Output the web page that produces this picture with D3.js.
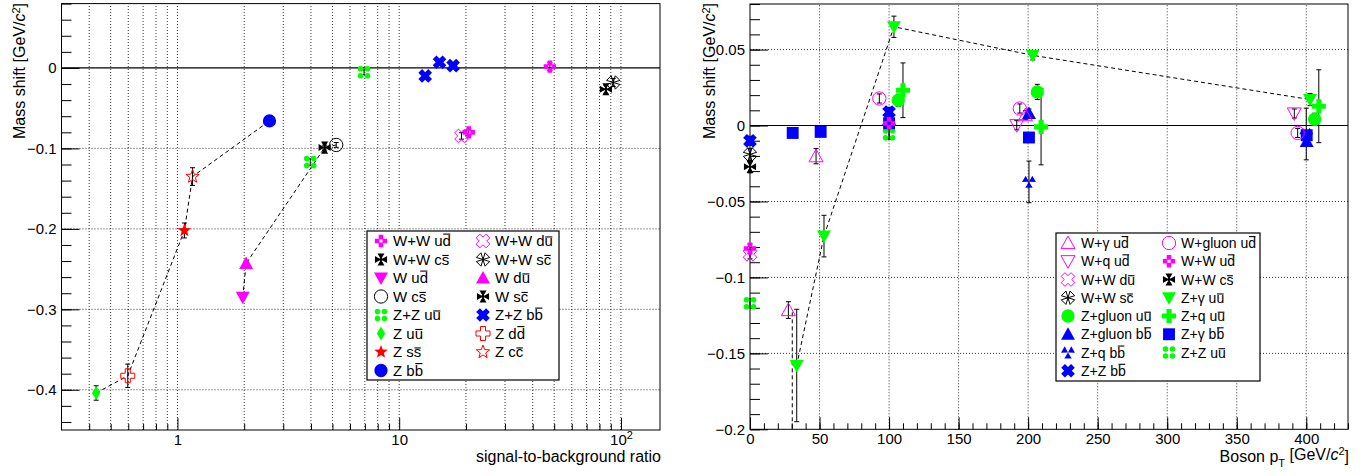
<!DOCTYPE html>
<html>
<head>
<meta charset="utf-8">
<script src="https://cdn.jsdelivr.net/npm/d3@7"></script>
<style>
  body { margin: 0; background: #fff; }
  svg { display: block; }
</style>
</head>
<body>
<svg id="chart" width="1372" height="476"></svg>
<script>
// ---------- data: left panel [signal-to-background, mass shift, error] ----------
const sbWWud = [[47.8, 0.0016, 0.005], [20.6, -0.080, 0.004]];
const sbWWdu = [[19.1, -0.0845, 0.004]];
const sbWWcs = [[85.5, -0.0265, 0.005]];
const sbWWsc = [[92.3, -0.018, 0.005]];
const sbWud = [[1.97, -0.285, 0.003]];
const sbWdu = [[2.04, -0.243, 0.003]];
const sbWcs = [[5.2, -0.0957, 0.003]];
const sbWsc = [[4.61, -0.099, 0.003]];
const sbZZuu = [[3.97, -0.117, 0.004], [6.94, -0.0054, 0.003]];
const sbZZbb = [[13.1, -0.0099, 0.003], [15.2, 0.0071, 0.003], [17.5, 0.0029, 0.003]];
const sbZuu = [[0.43, -0.404, 0.009]];
const sbZdd = [[0.597, -0.3826, 0.0145]];
const sbZss = [[1.075, -0.202, 0.0093]];
const sbZcc = [[1.17, -0.135, 0.011]];
const sbZbb = [[2.6, -0.0658, 0.002]];
// dashed guide lines (left)
const sbLineZ = [sbZuu[0], sbZdd[0], sbZss[0], sbZcc[0], sbZbb[0]];
const sbLineW = [sbWud[0], sbWdu[0], sbWsc[0], sbWcs[0]];

// ---------- data: right panel [boson pT, mass shift, error] ----------
const ptWgUd = [[27.6, -0.1215, 0.0055], [47.5, -0.0202, 0.005], [198, 0.0068, 0.003]];
const ptWgluUd = [[93, 0.0178, 0.003], [194, 0.0112, 0.003], [393.8, -0.0049, 0.003]];
const ptWqUd = [[191.8, 0.0002, 0.003], [391.4, 0.0079, 0.003]];
const ptWWud = [[0, -0.081, 0.003], [100, 0.0015, 0.003]];
const ptWWdu = [[0, -0.0847, 0.003]];
const ptWWcs = [[0, -0.0272, 0.004]];
const ptWWsc = [[0, -0.019, 0.004]];
const ptZgUu = [[33.6, -0.158, 0.037], [53.2, -0.0728, 0.0137], [103.5, 0.065, 0.007], [203.3, 0.0462, 0.003], [402.7, 0.0171, 0.004]];
const ptZgluUu = [[106.6, 0.0166, 0.004], [206.6, 0.0221, 0.005], [406, 0.0041, 0.004]];
const ptZqUu = [[110, 0.0232, 0.018], [209.3, -0.0009, 0.025], [409, 0.0127, 0.024]];
const ptZgluBb = [[100, 0.004, 0.003], [200.6, 0.0079, 0.003], [400.3, -0.0105, 0.003]];
const ptZgBb = [[30.7, -0.0049, 0.003], [50.8, -0.0042, 0.003], [100, 0.0015, 0.0105], [200.6, -0.0079, 0.003], [400.3, -0.0064, 0.003]];
const ptZqBb = [[200.6, -0.0371, 0.0137], [400, -0.0056, 0.017]];
const ptZZuu = [[0, -0.117, 0.003], [100, -0.0058, 0.003]];
const ptZZbb = [[0, -0.0101, 0.003], [100, 0.0089, 0.003]];
// dashed guide lines (right)
const ptLineZg = ptZgUu;
const ptLineExtra = [[30.4, -0.123], [30.4, -0.2]];

// ---------- ticks ----------
const sbTicks = [1, 10, 100];
const sbMinor = [0.4, 0.5, 0.6, 0.7, 0.8, 0.9, 2, 3, 4, 5, 6, 7, 8, 9, 20, 30, 40, 50, 60, 70, 80, 90];
const shiftTicksL = [-0.4, -0.3, -0.2, -0.1, 0];
const ptTicks = [0, 50, 100, 150, 200, 250, 300, 350, 400];
const shiftTicksR = [-0.2, -0.15, -0.1, -0.05, 0, 0.05];

const FONT = "'Liberation Sans', Arial, Helvetica, sans-serif";
const MAG = "#ff00ff", GRN = "#00ff00", BLU = "#0000ff", RED = "#ff0000", BLK = "#000000";

const leftSeries = [
  { label: "W+W u#bar{d}", data: sbWWud, m: "fourSqPlus", c: MAG },
  { label: "W+W d#bar{u}", data: sbWWdu, m: "crossX", c: MAG, open: true },
  { label: "W+W c#bar{s}", data: sbWWcs, m: "fourTriPlus", c: BLK },
  { label: "W+W s#bar{c}", data: sbWWsc, m: "fourTriX", c: BLK, open: true },
  { label: "W u#bar{d}", data: sbWud, m: "triDown", c: MAG },
  { label: "W d#bar{u}", data: sbWdu, m: "triUp", c: MAG },
  { label: "W c#bar{s}", data: sbWcs, m: "circle", c: BLK, open: true },
  { label: "W s#bar{c}", data: sbWsc, m: "fourTriPlus", c: BLK },
  { label: "Z+Z u#bar{u}", data: sbZZuu, m: "fourSqX", c: GRN },
  { label: "Z+Z b#bar{b}", data: sbZZbb, m: "crossX", c: BLU },
  { label: "Z u#bar{u}", data: sbZuu, m: "diamond", c: GRN },
  { label: "Z d#bar{d}", data: sbZdd, m: "cross", c: RED, open: true },
  { label: "Z s#bar{s}", data: sbZss, m: "star", c: RED },
  { label: "Z c#bar{c}", data: sbZcc, m: "star", c: RED, open: true },
  { label: "Z b#bar{b}", data: sbZbb, m: "circle", c: BLU }
];

const rightSeries = [
  { label: "W+\u03b3 u#bar{d}", data: ptWgUd, m: "triUp", c: MAG, open: true },
  { label: "W+gluon u#bar{d}", data: ptWgluUd, m: "circle", c: MAG, open: true },
  { label: "W+q u#bar{d}", data: ptWqUd, m: "triDown", c: MAG, open: true },
  { label: "W+W u#bar{d}", data: ptWWud, m: "fourSqPlus", c: MAG },
  { label: "W+W d#bar{u}", data: ptWWdu, m: "crossX", c: MAG, open: true },
  { label: "W+W c#bar{s}", data: ptWWcs, m: "fourTriPlus", c: BLK },
  { label: "W+W s#bar{c}", data: ptWWsc, m: "fourTriX", c: BLK, open: true },
  { label: "Z+\u03b3 u#bar{u}", data: ptZgUu, m: "triDown", c: GRN },
  { label: "Z+gluon u#bar{u}", data: ptZgluUu, m: "circle", c: GRN },
  { label: "Z+q u#bar{u}", data: ptZqUu, m: "cross", c: GRN },
  { label: "Z+gluon b#bar{b}", data: ptZgluBb, m: "triUp", c: BLU },
  { label: "Z+\u03b3 b#bar{b}", data: ptZgBb, m: "square", c: BLU },
  { label: "Z+q b#bar{b}", data: ptZqBb, m: "threeTri", c: BLU },
  { label: "Z+Z u#bar{u}", data: ptZZuu, m: "fourSqX", c: GRN },
  { label: "Z+Z b#bar{b}", data: ptZZbb, m: "crossX", c: BLU }
];

// ---------- marker shapes (ROOT style) ----------
function markerPath(kind, r) {
  const p = d3.path();
  const D = Math.PI / 180;
  const poly = pts => { pts.forEach(([x, y], i) => i ? p.lineTo(x, y) : p.moveTo(x, y)); p.closePath(); };
  const rot = (pts, a) => pts.map(([x, y]) => [x * Math.cos(a) - y * Math.sin(a), x * Math.sin(a) + y * Math.cos(a)]);
  const plus = a => [[-a, -r], [a, -r], [a, -a], [r, -a], [r, a], [a, a], [a, r], [-a, r], [-a, a], [-r, a], [-r, -a], [-a, -a]];
  const wedge = (ang, half) => [[0, 0], [r * Math.cos(ang - half), r * Math.sin(ang - half)], [r * Math.cos(ang + half), r * Math.sin(ang + half)]];
  const sq = (cx, cy, s) => [[cx - s, cy - s], [cx + s, cy - s], [cx + s, cy + s], [cx - s, cy + s]];
  const dot = (cx, cy, rr) => { p.moveTo(cx + rr, cy); p.arc(cx, cy, rr, 0, 2 * Math.PI); p.closePath(); };
  switch (kind) {
    case "circle": p.arc(0, 0, r * 0.95, 0, 2 * Math.PI); p.closePath(); break;
    case "square": poly(sq(0, 0, r * 0.85)); break;
    case "triUp": poly([[0, -r], [r, r * 0.8], [-r, r * 0.8]]); break;
    case "triDown": poly([[0, r], [r, -r * 0.8], [-r, -r * 0.8]]); break;
    case "diamond": poly([[0, -r], [r * 0.6, 0], [0, r], [-r * 0.6, 0]]); break;
    case "cross": poly(plus(r * 0.36)); break;
    case "crossX": poly(rot(plus(r * 0.38), 45 * D)); break;
    case "star": {
      const pts = [];
      for (let i = 0; i < 10; i++) {
        const a = -90 * D + i * 36 * D, rr = i % 2 ? r * 0.42 : r;
        pts.push([rr * Math.cos(a), rr * Math.sin(a)]);
      }
      poly(pts); break;
    }
    case "fourTriPlus": [0, 90, 180, 270].forEach(a => poly(wedge(a * D, 30 * D))); poly(sq(0, 0, r * 0.18)); break;
    case "fourTriX": [45, 135, 225, 315].forEach(a => poly(wedge(a * D, 28 * D))); break;
    case "threeTri": [-150, -30, 90].forEach(a => poly(wedge(a * D, 32 * D))); break;
    case "fourSqX": [[1, 1], [1, -1], [-1, 1], [-1, -1]].forEach(([sx, sy]) => dot(sx * r * 0.5, sy * r * 0.5, r * 0.4)); break;
    case "fourSqPlus": [[0, 1], [0, -1], [1, 0], [-1, 0]].forEach(([sx, sy]) => poly(sq(sx * r * 0.55, sy * r * 0.55, r * 0.33))); break;
  }
  return p.toString();
}

function drawMarker(g, s, x, y, r = 7) {
  g.append("path")
    .attr("d", markerPath(s.m, r))
    .attr("transform", `translate(${x},${y})`)
    .attr("fill", s.open ? "none" : s.c)
    .attr("stroke", s.open ? s.c : "none")
    .attr("stroke-width", 1);
}

// text with ROOT-like #bar{} overlines
function richText(g, str, x, y, fs) {
  const t = g.append("text").attr("x", x).attr("y", y)
    .attr("font-size", fs).attr("font-family", FONT).attr("fill", "#000");
  const parts = str.split(/#bar\{(.)\}/);
  const bars = [];
  let idx = 0;
  parts.forEach((s, i) => {
    if (!s) return;
    t.append("tspan").text(s);
    if (i % 2) bars.push({ i: idx, ch: s });
    idx += s.length;
  });
  const node = t.node();
  bars.forEach(b => {
    const e = node.getExtentOfChar(b.i);
    const hy = y - fs * (/[bdhklf]/.test(b.ch) ? 0.82 : 0.63);
    g.append("line").attr("x1", e.x + 0.6).attr("x2", e.x + e.width - 0.6)
      .attr("y1", hy).attr("y2", hy).attr("stroke", "#000").attr("stroke-width", 1.1);
  });
  return t;
}

const svg = d3.select("#chart");

function panel(o) {
  const g = svg.append("g");
  const [x0, x1] = o.x.range(), [y0, y1] = o.y.range(); // y0 bottom, y1 top
  const dot = sel => sel.attr("stroke", "#000").attr("stroke-width", 0.8).attr("stroke-dasharray", "1,2");

  g.append("g").selectAll("line").data(o.xGrid).join("line")
    .attr("x1", d => o.x(d)).attr("x2", d => o.x(d)).attr("y1", y0).attr("y2", y1).call(dot);
  g.append("g").selectAll("line").data(o.yGrid).join("line")
    .attr("y1", d => o.y(d)).attr("y2", d => o.y(d)).attr("x1", x0).attr("x2", x1).call(dot);

  g.append("line").attr("x1", x0).attr("x2", x1).attr("y1", o.y(0)).attr("y2", o.y(0))
    .attr("stroke", "#000").attr("stroke-width", 1.2);

  // axes
  const styleAxis = a => {
    a.select(".domain").remove();
    a.attr("font-family", FONT).attr("font-size", 15);
    a.selectAll("line").attr("stroke", "#000");
  };
  const xa = g.append("g").attr("transform", `translate(0,${y0})`);
  xa.call(d3.axisBottom(o.x).tickValues(o.xMinor).tickSize(-6).tickFormat("")).call(styleAxis);
  const xb = g.append("g").attr("transform", `translate(0,${y0})`);
  xb.call(d3.axisBottom(o.x).tickValues(o.xMajor).tickSize(-12).tickPadding(4).tickFormat(o.xFmt)).call(styleAxis);
  if (o.xPost) o.xPost(xb);

  const ya = g.append("g").attr("transform", `translate(${x0},0)`);
  ya.call(d3.axisLeft(o.y).tickValues(o.yMinor).tickSize(-10).tickFormat("")).call(styleAxis);
  const yb = g.append("g").attr("transform", `translate(${x0},0)`);
  yb.call(d3.axisLeft(o.y).tickValues(o.yMajor).tickSize(-18).tickPadding(5).tickFormat(d => d === 0 ? "0" : d3.format("~g")(d))).call(styleAxis);

  // frame
  g.append("rect").attr("x", x0).attr("y", y1).attr("width", x1 - x0).attr("height", y0 - y1)
    .attr("fill", "none").attr("stroke", "#000").attr("stroke-width", 1);

  // dashed guide lines
  const line = d3.line().x(d => o.x(d[0])).y(d => o.y(d[1]));
  o.lines.forEach(l => g.append("path").attr("d", line(l)).attr("fill", "none")
    .attr("stroke", "#000").attr("stroke-width", 1).attr("stroke-dasharray", "4,3"));

  // error bars then markers
  const eg = g.append("g").attr("stroke", "#000").attr("stroke-width", 1);
  o.series.forEach(s => s.data.forEach(([vx, vy, ve]) => {
    const px = o.x(vx), ya_ = o.y(vy - ve), yb_ = o.y(vy + ve);
    eg.append("line").attr("x1", px).attr("x2", px).attr("y1", ya_).attr("y2", yb_);
    eg.append("line").attr("x1", px - 2.5).attr("x2", px + 2.5).attr("y1", ya_).attr("y2", ya_);
    eg.append("line").attr("x1", px - 2.5).attr("x2", px + 2.5).attr("y1", yb_).attr("y2", yb_);
  }));
  const mg = g.append("g");
  o.drawOrder.forEach(s => s.data.forEach(([vx, vy]) => drawMarker(mg, s, o.x(vx), o.y(vy))));

  // legend
  const L = o.legend;
  const lg = g.append("g");
  lg.append("rect").attr("x", L.x).attr("y", L.y).attr("width", L.w).attr("height", L.h)
    .attr("fill", "#fff").attr("stroke", "#000").attr("stroke-width", 1.2);
  o.series.forEach((s, k) => {
    const row = Math.floor(k / 2), col = k % 2;
    const cy = L.row0 + row * L.dy;
    drawMarker(lg, s, L.mx[col], cy);
    richText(lg, s.label, L.tx[col], cy + L.fs * 0.36, L.fs);
  });

  // titles
  const yt = g.append("text").attr("transform", `translate(${o.yTitleX},3) rotate(-90)`)
    .attr("text-anchor", "end").attr("font-family", FONT).attr("font-size", 16);
  yt.append("tspan").text("Mass shift [GeV/");
  yt.append("tspan").attr("font-style", "italic").text("c");
  yt.append("tspan").attr("font-size", 11).attr("dy", "-0.45em").text("2");
  yt.append("tspan").attr("dy", "0.3em").text("]");

  const xt = g.append("text").attr("x", x1 + 1).attr("y", 462)
    .attr("text-anchor", "end").attr("font-family", FONT).attr("font-size", 16);
  o.xTitle(xt);
}

// ---------- left panel ----------
const xL = d3.scaleLog().domain([0.3, 150]).range([61.5, 660]);
const yL = d3.scaleLinear().domain([-0.45, 0.08]).range([430, 3.6]);
panel({
  x: xL, y: yL,
  xMajor: sbTicks, xMinor: sbMinor,
  xFmt: d => d === 100 ? "10" : String(d),
  xPost: a => a.selectAll(".tick text").filter(d => d === 100)
    .append("tspan").attr("font-size", 11).attr("dy", "-0.55em").text("2"),
  xGrid: sbTicks.concat(sbMinor),
  yMajor: shiftTicksL, yMinor: d3.range(-44, 9, 2).map(v => v / 100),
  yGrid: shiftTicksL.filter(v => v !== 0),
  lines: [sbLineZ, sbLineW],
  series: leftSeries, drawOrder: leftSeries,
  legend: { x: 367, y: 231, w: 192, h: 149, row0: 241, dy: 18.5, mx: [381, 483], tx: [393, 495], fs: 15 },
  yTitleX: 25,
  xTitle: t => t.text("signal-to-background ratio")
});

// ---------- right panel ----------
const xR = d3.scaleLinear().domain([0, 430]).range([750, 1348]);
const yR = d3.scaleLinear().domain([-0.2, 0.08]).range([429.3, 4]);
panel({
  x: xR, y: yR,
  xMajor: ptTicks, xMinor: d3.range(0, 431, 10),
  xFmt: d => String(d),
  xGrid: ptTicks.filter(v => v > 0),
  yMajor: shiftTicksR, yMinor: d3.range(-20, 9, 1).map(v => v / 100),
  yGrid: shiftTicksR.filter(v => v !== 0 && v !== -0.2),
  lines: [ptLineZg, ptLineExtra],
  series: rightSeries, drawOrder: rightSeries.slice().reverse(),
  legend: { x: 1056, y: 233, w: 204, h: 148, row0: 243, dy: 18.25, mx: [1068, 1169], tx: [1081, 1181], fs: 14 },
  yTitleX: 715,
  xTitle: t => {
    t.append("tspan").text("Boson p");
    t.append("tspan").attr("font-size", 11).attr("dy", "0.45em").text("T");
    t.append("tspan").attr("dy", "-0.45em").text(" [GeV/");
    t.append("tspan").attr("font-style", "italic").text("c");
    t.append("tspan").attr("font-size", 11).attr("dy", "-0.45em").text("2");
    t.append("tspan").attr("dy", "0.45em").text("]");
  }
});
</script>
</body>
</html>
